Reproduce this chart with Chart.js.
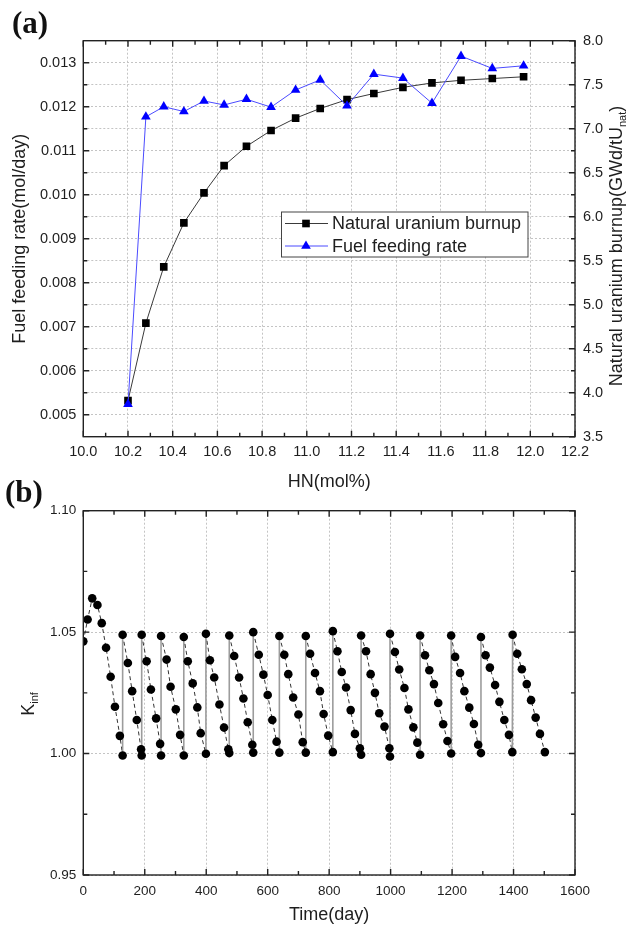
<!DOCTYPE html>
<html>
<head>
<meta charset="utf-8">
<script src="https://cdn.jsdelivr.net/npm/chart.js@4.4.1/dist/chart.umd.min.js"></script>
<style>
  html,body{margin:0;padding:0;background:#fff;}
  body{width:630px;height:926px;overflow:hidden;position:relative;}
  .wrap{position:absolute;left:0;}
  .lab{position:absolute;font:bold 31px "Liberation Serif","DejaVu Serif",serif;color:#111;line-height:30px;}
</style>
</head>
<body>
<div class="wrap" style="top:0;width:630px;height:500px;"><canvas id="ca" width="630" height="500"></canvas></div>
<div class="wrap" style="top:470px;width:630px;height:456px;"><canvas id="cb" width="630" height="456"></canvas></div>
<div class="lab" style="left:12px;top:8px;">(a)</div>
<div class="lab" style="left:5px;top:477px;">(b)</div>
<script>
// ---------- Data: chart (a) ----------
const hnMolPct = [10.20,10.28,10.36,10.45,10.54,10.63,10.73,10.84,10.95,11.06,11.18,11.30,11.43,11.56,11.69,11.83,11.97];
const natUBurnup = [3.91,4.79,5.43,5.93,6.27,6.58,6.80,6.98,7.12,7.23,7.33,7.40,7.47,7.52,7.55,7.57,7.59];
const fuelFeedRate = [0.00524,0.01177,0.01200,0.01189,0.01213,0.01204,0.01217,0.01199,0.01238,0.01261,0.01202,0.01274,0.01265,0.01208,0.01315,0.01287,0.01293];
const seriesNamesA = ['Natural uranium burnup','Fuel feeding rate'];
const hnTicks = [10.0,10.2,10.4,10.6,10.8,11.0,11.2,11.4,11.6,11.8,12.0,12.2];
const feedRateTicks = [0.005,0.006,0.007,0.008,0.009,0.010,0.011,0.012,0.013];
const burnupTicks = [3.5,4.0,4.5,5.0,5.5,6.0,6.5,7.0,7.5,8.0];

// ---------- Data: chart (b) ----------
const timeDay = [
  0,14,29,46,60,74,89,103,119,128,
  128,145,159,174,188,190,
  190,206,220,237,250,253,
  253,271,284,301,315,327,
  327,340,356,371,382,399,
  399,412,426,443,458,472,475,
  475,491,507,521,535,550,553,
  553,571,586,600,615,629,638,
  638,654,667,683,700,714,724,
  724,738,754,770,782,797,812,
  812,827,841,855,870,884,900,904,
  904,920,935,949,963,980,996,998,
  998,1014,1028,1045,1058,1074,1087,1096,
  1096,1112,1126,1141,1155,1171,1185,1197,
  1197,1210,1226,1240,1256,1271,1285,1294,
  1294,1309,1323,1340,1354,1370,1385,1396,
  1397,1412,1427,1443,1457,1472,1486,1502
];
const kInf = [
  1.0462,1.0552,1.0639,1.0612,1.0537,1.0436,1.0316,1.0193,1.0073,0.9992,
  1.0489,1.0373,1.0257,1.0138,1.0018,0.9992,
  1.0489,1.0380,1.0264,1.0145,1.0040,0.9992,
  1.0484,1.0387,1.0275,1.0182,1.0077,0.9992,
  1.0480,1.0380,1.0289,1.0190,1.0084,0.9999,
  1.0493,1.0384,1.0313,1.0202,1.0107,1.0018,1.0002,
  1.0486,1.0402,1.0313,1.0227,1.0129,1.0036,1.0004,
  1.0500,1.0407,1.0325,1.0241,1.0138,1.0049,1.0004,
  1.0484,1.0407,1.0327,1.0231,1.0161,1.0047,1.0004,
  1.0484,1.0411,1.0332,1.0257,1.0163,1.0074,1.0006,
  1.0504,1.0421,1.0336,1.0272,1.0179,1.0081,1.0022,0.9995,
  1.0486,1.0421,1.0327,1.0250,1.0166,1.0111,1.0022,0.9988,
  1.0493,1.0418,1.0346,1.0270,1.0182,1.0108,1.0045,0.9995,
  1.0486,1.0405,1.0343,1.0286,1.0208,1.0121,1.0052,1.0000,
  1.0486,1.0398,1.0332,1.0257,1.0189,1.0122,1.0036,1.0002,
  1.0480,1.0405,1.0354,1.0282,1.0213,1.0138,1.0077,1.0006,
  1.0489,1.0411,1.0347,1.0286,1.0220,1.0148,1.0081,1.0006
];
const timeTicks = [0,200,400,600,800,1000,1200,1400,1600];
const kInfTicks = [0.95,1.00,1.05,1.10];

const FAM = '"Liberation Sans", Arial, sans-serif';
const TXT = '#1e1e1e';
const GRID = '#c4c4c4';
const setTicks = vals => (s => { s.ticks = vals.map(v => ({value: v})); });

// inward ticks + frame
const frameTicks = {
  id: 'frameTicks',
  afterDatasetsDraw(chart, args, opts) {
    const {ctx, chartArea: a} = chart;
    ctx.save();
    ctx.strokeStyle = '#222';
    ctx.lineWidth = 1.4;
    ctx.beginPath();
    for (const s of opts.sides) {
      const sc = chart.scales[s.scale];
      const vals = sc.ticks.map(t => t.value);
      const mids = [];
      for (let i = 0; i < vals.length - 1; i++) mids.push((vals[i] + vals[i+1]) / 2);
      const marks = vals.map(v => [v, 6]).concat(mids.map(v => [v, 4]));
      for (const [v, len] of marks) {
        const p = sc.getPixelForValue(v);
        for (const e of s.edges) {
          if (e === 'bottom') { ctx.moveTo(p, a.bottom); ctx.lineTo(p, a.bottom - len); }
          if (e === 'top') { ctx.moveTo(p, a.top); ctx.lineTo(p, a.top + len); }
          if (e === 'left') { ctx.moveTo(a.left, p); ctx.lineTo(a.left + len, p); }
          if (e === 'right') { ctx.moveTo(a.right, p); ctx.lineTo(a.right - len, p); }
        }
      }
    }
    ctx.stroke();
    ctx.strokeRect(a.left, a.top, a.right - a.left, a.bottom - a.top);
    ctx.restore();
  }
};

// rotated titles with subscripts
const subTitles = {
  id: 'subTitles',
  afterDraw(chart, args, opts) {
    const ctx = chart.ctx;
    for (const t of opts.items) {
      ctx.save();
      ctx.translate(t.x, t.y);
      ctx.rotate(-Math.PI / 2);
      ctx.fillStyle = TXT;
      ctx.textBaseline = 'alphabetic';
      ctx.textAlign = 'left';
      const big = t.size + 'px ' + FAM, small = t.subSize + 'px ' + FAM;
      ctx.font = big; const w1 = ctx.measureText(t.main).width; const w3 = ctx.measureText(t.tail).width;
      ctx.font = small; const w2 = ctx.measureText(t.sub).width;
      let x0 = -(w1 + w2 + w3) / 2;
      ctx.font = big; ctx.fillText(t.main, x0, 0);
      ctx.font = small; ctx.fillText(t.sub, x0 + w1, t.subShift);
      ctx.font = big; ctx.fillText(t.tail, x0 + w1 + w2, 0);
      ctx.restore();
    }
  }
};

// legend for (a)
const legendA = {
  id: 'legendA',
  afterDraw(chart, args, opts) {
    const ctx = chart.ctx;
    const b = opts.box;
    ctx.save();
    ctx.fillStyle = '#fff';
    ctx.fillRect(b.x, b.y, b.w, b.h);
    ctx.strokeStyle = '#444'; ctx.lineWidth = 1;
    ctx.strokeRect(b.x + 0.5, b.y + 0.5, b.w, b.h);
    chart.data.datasets.forEach((ds, i) => {
      const y = b.y + opts.rows[i];
      ctx.strokeStyle = ds.borderColor; ctx.lineWidth = 1;
      ctx.beginPath(); ctx.moveTo(b.x + 4, y); ctx.lineTo(b.x + 47, y); ctx.stroke();
      const cx = b.x + 25;
      ctx.fillStyle = ds.pointBackgroundColor;
      if (ds.pointStyle === 'rect') {
        const s = ds.pointRadius * Math.SQRT1_2;
        ctx.fillRect(cx - s, y - s, 2 * s, 2 * s);
      } else {
        const r = ds.pointRadius;
        ctx.beginPath();
        ctx.moveTo(cx, y - r);
        ctx.lineTo(cx + r * 0.866, y + r * 0.5);
        ctx.lineTo(cx - r * 0.866, y + r * 0.5);
        ctx.closePath(); ctx.fill();
      }
      ctx.fillStyle = TXT;
      ctx.font = '18px ' + FAM;
      ctx.textBaseline = 'middle';
      ctx.textAlign = 'left';
      ctx.fillText(ds.label, b.x + 51, y + 1);
    });
    ctx.restore();
  }
};

const tickFontA = {size: 14.5, family: FAM};
const titleFont = {size: 18, family: FAM};

new Chart(document.getElementById('ca'), {
  type: 'line',
  data: {
    datasets: [
      {
        label: seriesNamesA[0],
        data: hnMolPct.map((x, i) => ({x, y: natUBurnup[i]})),
        yAxisID: 'y2',
        borderColor: '#3a3a3a', borderWidth: 1,
        pointStyle: 'rect', pointRadius: 5.4, pointBorderWidth: 0,
        pointBackgroundColor: '#000', pointBorderColor: '#000',
        order: 1
      },
      {
        label: seriesNamesA[1],
        data: hnMolPct.map((x, i) => ({x, y: fuelFeedRate[i]})),
        yAxisID: 'y',
        borderColor: '#4b4bff', borderWidth: 1,
        pointStyle: 'triangle', pointRadius: 5.6, pointBorderWidth: 0,
        pointBackgroundColor: '#0000ff', pointBorderColor: '#0000ff',
        order: 0
      }
    ]
  },
  options: {
    responsive: false, animation: false, devicePixelRatio: 1,
    layout: {padding: {top: 40.7, left: 0, right: 0, bottom: 0}},
    plugins: {
      legend: {display: false}, tooltip: {enabled: false},
      frameTicks: {sides: [
        {scale: 'x', edges: ['bottom', 'top']},
        {scale: 'y', edges: ['left']},
        {scale: 'y2', edges: ['right']}
      ]},
      subTitles: {items: [
        {main: 'Natural uranium burnup(GWd/tU', sub: 'nat', tail: ')', x: 621.5, y: 246, size: 18, subSize: 11, subShift: 4}
      ]},
      legendA: {box: {x: 281, y: 211.5, w: 246.5, h: 45}, rows: [12, 34.5]}
    },
    scales: {
      x: {
        type: 'linear', min: 10.0, max: 12.2,
        afterFit: s => { s.height = 63.3; },
        afterBuildTicks: setTicks(hnTicks),
        ticks: {padding: 7, font: tickFontA, color: TXT, maxRotation: 0, autoSkip: false,
                callback: v => v.toFixed(1)},
        grid: {drawTicks: false, color: GRID, lineWidth: 1},
        border: {display: false, dash: [2, 2]},
        title: {display: true, text: 'HN(mol%)', font: titleFont, color: TXT, padding: {top: 0, bottom: 7}}
      },
      y: {
        type: 'linear', position: 'left', min: 0.0045, max: 0.0135,
        afterFit: s => { s.width = 83.3; },
        afterBuildTicks: setTicks(feedRateTicks),
        ticks: {padding: 7, font: tickFontA, color: TXT, callback: v => v.toFixed(3)},
        grid: {drawTicks: false, color: GRID, lineWidth: 1},
        border: {display: false, dash: [2, 2]},
        title: {display: true, text: 'Fuel feeding rate(mol/day)', font: titleFont, color: TXT, padding: {top: 9, bottom: 0}}
      },
      y2: {
        type: 'linear', position: 'right', min: 3.5, max: 8.0,
        afterFit: s => { s.width = 55; },
        afterBuildTicks: setTicks(burnupTicks),
        ticks: {padding: 8, font: tickFontA, color: TXT, callback: v => v.toFixed(1)},
        grid: {drawTicks: false, color: GRID, lineWidth: 1},
        border: {display: false, dash: [2, 2]}
      }
    }
  },
  plugins: [frameTicks, subTitles, legendA]
});

const rising = c => (c.p1.parsed.y - c.p0.parsed.y) > 0.02;
const tickFontB = {size: 13.5, family: FAM};

new Chart(document.getElementById('cb'), {
  type: 'line',
  data: {
    datasets: [{
      label: 'Kinf',
      data: timeDay.map((t, i) => ({x: t, y: kInf[i]})),
      borderColor: '#333', borderWidth: 1, borderDash: [4, 3],
      pointRadius: 4.3, pointBorderWidth: 0,
      pointBackgroundColor: '#000', pointBorderColor: '#000',
      segment: {
        borderColor: c => rising(c) ? '#9c9c9c' : '#333',
        borderDash: c => rising(c) ? [] : [4, 3],
        borderWidth: c => rising(c) ? 1.6 : 1
      }
    }]
  },
  options: {
    responsive: false, animation: false, devicePixelRatio: 1,
    layout: {padding: {top: 40.7, left: 0, right: 55, bottom: 0}},
    plugins: {
      legend: {display: false}, tooltip: {enabled: false},
      frameTicks: {sides: [
        {scale: 'x', edges: ['bottom', 'top']},
        {scale: 'y', edges: ['left', 'right']}
      ]},
      subTitles: {items: [
        {main: 'K', sub: 'inf', tail: '', x: 33.5, y: 234, size: 18, subSize: 11, subShift: 4}
      ]}
    },
    scales: {
      x: {
        type: 'linear', min: 0, max: 1600,
        afterFit: s => { s.height = 51; },
        afterBuildTicks: setTicks(timeTicks),
        ticks: {padding: 8, font: tickFontB, color: TXT, maxRotation: 0, autoSkip: false,
                callback: v => String(v)},
        grid: {drawTicks: false, color: GRID, lineWidth: 1},
        border: {display: false, dash: [2, 2]},
        title: {display: true, text: 'Time(day)', font: titleFont, color: TXT, padding: {top: 0, bottom: 0}}
      },
      y: {
        type: 'linear', position: 'left', min: 0.95, max: 1.10,
        afterFit: s => { s.width = 83.3; },
        afterBuildTicks: setTicks(kInfTicks),
        ticks: {padding: 7, font: tickFontB, color: TXT, callback: v => v.toFixed(2)},
        grid: {drawTicks: false, color: GRID, lineWidth: 1},
        border: {display: false, dash: [2, 2]}
      }
    }
  },
  plugins: [frameTicks, subTitles]
});
</script>
</body>
</html>
